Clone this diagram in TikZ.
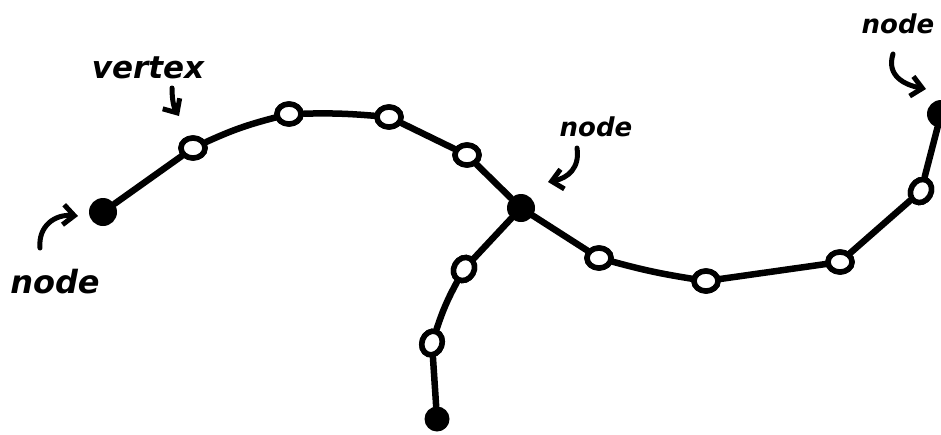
\documentclass[tikz,border=0pt]{standalone}
\usepackage{fontspec}
\setmainfont{DejaVu Sans}
\usetikzlibrary{shapes.geometric,arrows.meta}
\begin{document}
\begin{tikzpicture}[x=1pt,y=-1pt,
  edge/.style={line width=6.5pt,line cap=round},
  vtx/.style={ellipse,draw,line width=5.5pt,fill=white,minimum width=24pt,minimum height=20pt,inner sep=0pt},
  nd/.style={circle,fill=black,minimum size=28pt,inner sep=0pt},
  lbl/.style={anchor=base},
  pointer/.style={line width=5pt,line cap=round,-{Straight Barb[length=11pt,width=20pt,line width=5pt]}}]
\useasboundingbox (0,0) rectangle (941,434);
% nodes
\node[nd] (L) at (103,212) {};
\node[vtx] (v1) at (193,148) {};
\node[vtx] (v2) at (289,114) {};
\node[vtx] (v3) at (389,117) {};
\node[vtx] (v4) at (467,155) {};
\node[nd] (C) at (521,208) {};
\node[vtx] (v5) at (599,258) {};
\node[vtx] (v6) at (706,281) {};
\node[vtx] (v7) at (840,262) {};
\node[vtx,rotate=60] (v8) at (921,191) {};
\node[nd] (R) at (941,114) {};
\node[vtx,rotate=60] (b1) at (464,269) {};
\node[vtx,rotate=70] (b2) at (432,343) {};
\node[nd,minimum size=25pt] (B) at (437,419) {};
% edges
\draw[edge] (L) -- (v1);
\draw[edge] (v1) to[bend left=5] (v2);
\draw[edge] (v2) to[bend left=3] (v3);
\draw[edge] (v3) -- (v4);
\draw[edge] (v4) -- (C);
\draw[edge] (C) -- (v5);
\draw[edge] (v5) to[bend right=3] (v6);
\draw[edge] (v6) -- (v7);
\draw[edge] (v7) -- (v8);
\draw[edge] (v8) -- (R);
\draw[edge] (C) -- (b1);
\draw[edge] (b1) to[bend right=5] (b2);
\draw[edge] (b2) -- (B);
% redraw vertices on top of the edges
\foreach \p/\r in {{(193,148)}/0,{(289,114)}/0,{(389,117)}/0,{(467,155)}/0,{(599,258)}/0,{(706,281)}/0,{(840,262)}/0,{(921,191)}/60,{(464,269)}/60,{(432,343)}/70}
  \node[vtx,rotate=\r] at \p {};
% labels
\node[lbl,font=\fontsize{31}{34}\selectfont\bfseries\itshape] (tv) at (148,78) {vertex};
\node[lbl,font=\fontsize{32}{35}\selectfont\bfseries\itshape] (tl) at (55,293) {node};
\node[lbl,font=\fontsize{26}{29}\selectfont\bfseries\itshape] (tc) at (596,136) {node};
\node[lbl,font=\fontsize{26}{29}\selectfont\bfseries\itshape] (tr) at (898,33) {node};
% pointers
\coordinate (pv0) at (172,88);
\coordinate (pv1) at (179,116);
\coordinate (pl0) at (40,248);
\coordinate (pl1) at (78,216);
\coordinate (pc0) at (577,148);
\coordinate (pc1) at (548,182);
\coordinate (pr0) at (893,54);
\coordinate (pr1) at (926,89);
\draw[pointer] (pv0) .. controls (172,100) and (174,108) .. (pv1);
\draw[pointer] (pl0) .. controls (38,226) and (55,214) .. (pl1);
\draw[pointer] (pc0) .. controls (580,168) and (568,178) .. (pc1);
\draw[pointer] (pr0) .. controls (886,76) and (905,85) .. (pr1);
\end{tikzpicture}
\end{document}
